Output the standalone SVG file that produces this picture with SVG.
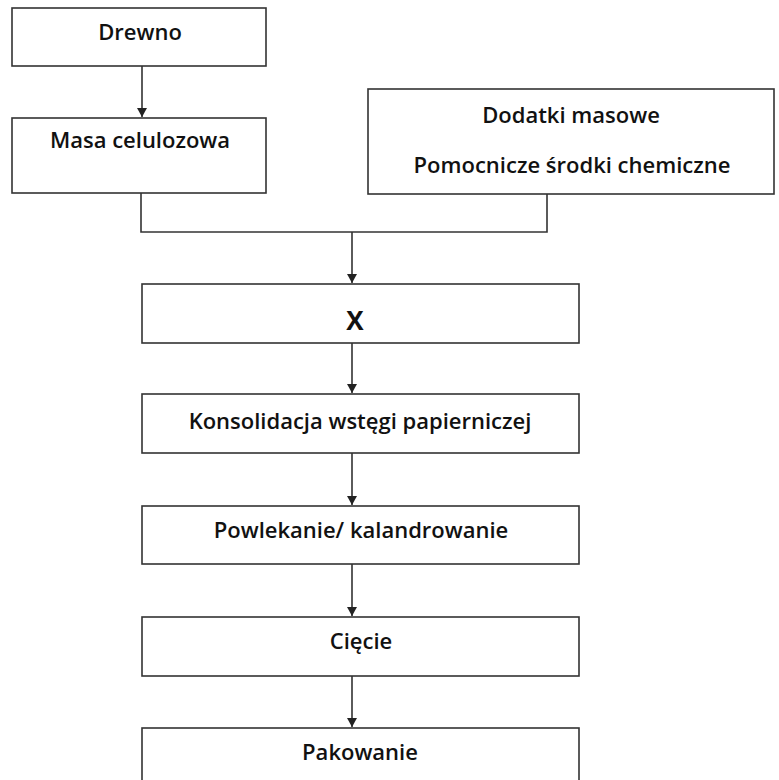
<svg xmlns="http://www.w3.org/2000/svg" width="779" height="780" viewBox="0 0 779 780">
<defs>
<marker id="ah" markerWidth="10" markerHeight="10" refX="9" refY="5" orient="auto" markerUnits="userSpaceOnUse">
<path d="M0,0 L9,5 L0,10 Z" fill="#222"/>
</marker>
<style>
.box{fill:#fff;stroke:#333;stroke-width:1.6}
.t{font-family:"Open Sans",Lato,"Liberation Sans",sans-serif;font-size:22px;font-weight:600;fill:#111;text-anchor:middle}
.c{fill:none;stroke:#333;stroke-width:1.6}
</style>
</defs>
<rect width="779" height="780" fill="#fff"/>
<g id="n-drewno"><rect class="box" x="12" y="8" width="254" height="58"/><text class="t" x="140" y="40">Drewno</text></g>
<g id="n-masa"><rect class="box" x="12" y="118" width="254" height="75"/><text class="t" x="140" y="148">Masa celulozowa</text></g>
<g id="n-dodatki"><rect class="box" x="368" y="89" width="406" height="105"/><text class="t" x="571" y="123">Dodatki masowe</text><text class="t" x="572" y="173">Pomocnicze środki chemiczne</text></g>
<g id="n-x"><rect class="box" x="142" y="284" width="437" height="59"/><text class="t" x="355" y="330" style="font-weight:bold;font-size:26px">X</text></g>
<g id="n-konsolidacja"><rect class="box" x="142" y="394" width="437" height="59"/><text class="t" x="360" y="429">Konsolidacja wstęgi papierniczej</text></g>
<g id="n-powlekanie"><rect class="box" x="142" y="506" width="437" height="58"/><text class="t" x="361" y="538">Powlekanie/ kalandrowanie</text></g>
<g id="n-ciecie"><rect class="box" x="142" y="617" width="437" height="59"/><text class="t" x="361" y="649">Cięcie</text></g>
<g id="n-pakowanie"><rect class="box" x="142" y="728" width="437" height="60"/><text class="t" x="360" y="760">Pakowanie</text></g>
<g id="connectors">
<line class="c" x1="142" y1="66" x2="142" y2="117" marker-end="url(#ah)"/>
<polyline class="c" points="141,193 141,232 547,232 547,194"/>
<line class="c" x1="352" y1="232" x2="352" y2="283" marker-end="url(#ah)"/>
<line class="c" x1="352" y1="343" x2="352" y2="393" marker-end="url(#ah)"/>
<line class="c" x1="352" y1="453" x2="352" y2="505" marker-end="url(#ah)"/>
<line class="c" x1="352" y1="564" x2="352" y2="616" marker-end="url(#ah)"/>
<line class="c" x1="352" y1="676" x2="352" y2="727" marker-end="url(#ah)"/>
</g>
</svg>
